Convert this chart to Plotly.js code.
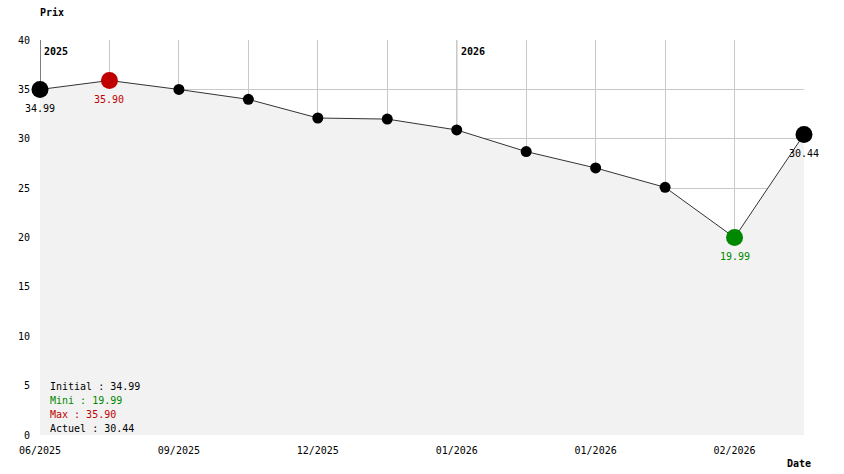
<!DOCTYPE html>
<html>
<head>
<meta charset="utf-8">
<script src="https://cdn.plot.ly/plotly-3.0.1.min.js"></script>
<style>html,body{margin:0;padding:0;background:#fff;}#chart{width:844px;height:474px;}</style>
</head>
<body>
<div id="chart"></div>
<script>
// Data
var tickLabels = ["06/2025", "", "09/2025", "", "12/2025", "", "01/2026", "", "01/2026", "", "02/2026", ""];
var prices = [34.99, 35.90, 34.99, 33.99, 32.10, 31.99, 30.89, 28.70, 27.04, 25.08, 19.99, 30.44];
var yearIndex = [0, 6];
var yearText = ["2025", "2026"];
var yearColor = ["#000000", "#808080"];

var FONT = "DejaVu Sans Mono, Liberation Mono, monospace";
var idx = prices.map(function (_, i) { return i; });
var n = prices.length;
var minV = Math.min.apply(null, prices), maxV = Math.max.apply(null, prices);
var minI = prices.indexOf(minV), maxI = prices.indexOf(maxV);

var colors = [], sizes = [];
for (var i = 0; i < n; i++) {
  var c = "#000000", s = 11;
  if (i === 0 || i === n - 1) { s = 17; }
  if (i === maxI) { c = "#c00000"; s = 17; }
  if (i === minI) { c = "#008800"; s = 17; }
  colors.push(c); sizes.push(s);
}

var fillTrace = {
  x: idx, y: prices, type: "scatter", mode: "lines",
  fill: "tozeroy", fillcolor: "#f2f2f2",
  line: {color: "#333333", width: 1},
  cliponaxis: false, hoverinfo: "none"
};
var markerTrace = {
  x: idx, y: prices, type: "scatter", mode: "markers",
  marker: {color: colors, size: sizes, opacity: 1, line: {width: 0}},
  cliponaxis: false, hoverinfo: "none"
};

var shapes = yearIndex.map(function (xi, k) {
  return {type: "line", xref: "x", yref: "y", x0: xi, x1: xi, y0: 0, y1: 40,
          line: {color: yearColor[k], width: 1}, layer: "below"};
});

var ann = [];
yearIndex.forEach(function (xi, k) {
  ann.push({x: xi, y: 40, xref: "x", yref: "y", text: "<b>" + yearText[k] + "</b>", showarrow: false,
            xanchor: "left", yanchor: "middle", xshift: 2, yshift: -11,
            font: {family: FONT, size: 10, color: "#000"}});
});
function valLabel(i, color) {
  ann.push({x: i, y: prices[i], xref: "x", yref: "y", text: prices[i].toFixed(2), showarrow: false,
            xanchor: "center", yanchor: "middle", yshift: -19,
            font: {family: FONT, size: 10, color: color}});
}
valLabel(0, "#000");
valLabel(maxI, "#c00000");
valLabel(minI, "#008800");
valLabel(n - 1, "#000");

var stats = [
  ["Initial : " + prices[0].toFixed(2), "#000", 49],
  ["Mini : " + minV.toFixed(2), "#008800", 35],
  ["Max : " + maxV.toFixed(2), "#c00000", 21],
  ["Actuel : " + prices[n - 1].toFixed(2), "#000", 7]
];
stats.forEach(function (s) {
  ann.push({x: 0, y: 0, xref: "paper", yref: "paper", text: s[0], showarrow: false,
            xanchor: "left", yanchor: "middle", xshift: 8, yshift: s[2],
            font: {family: FONT, size: 10, color: s[1]}});
});
ann.push({x: 0, y: 1, xref: "paper", yref: "paper", text: "<b>Prix</b>", showarrow: false,
          xanchor: "left", yanchor: "middle", xshift: -2, yshift: 28,
          font: {family: FONT, size: 10, color: "#000"}});
ann.push({x: 1, y: 0, xref: "paper", yref: "paper", text: "<b>Date</b>", showarrow: false,
          xanchor: "right", yanchor: "middle", xshift: 9, yshift: -28,
          font: {family: FONT, size: 10, color: "#000"}});

var layout = {
  width: 844, height: 474,
  margin: {l: 40, r: 40, t: 40, b: 39, pad: 0},
  paper_bgcolor: "#ffffff", plot_bgcolor: "#ffffff",
  showlegend: false,
  font: {family: FONT, size: 10, color: "#000"},
  xaxis: {range: [0, n - 1], tickmode: "array", tickvals: idx, ticktext: tickLabels,
          showgrid: true, gridcolor: "#c8c8c8", gridwidth: 1, zeroline: false,
          showline: false, ticks: "", ticklabelstandoff: 8, fixedrange: true,
          tickfont: {family: FONT, size: 10, color: "#000"}},
  yaxis: {range: [0, 40], tickmode: "array", tickvals: [0, 5, 10, 15, 20, 25, 30, 35, 40],
          showgrid: true, gridcolor: "#c8c8c8", gridwidth: 1, zeroline: false,
          showline: false, ticks: "", ticklabelstandoff: 9, fixedrange: true,
          tickfont: {family: FONT, size: 10, color: "#000"}},
  shapes: shapes,
  annotations: ann
};

Plotly.newPlot("chart", [fillTrace, markerTrace], layout, {displayModeBar: false, staticPlot: true});
</script>
</body>
</html>
